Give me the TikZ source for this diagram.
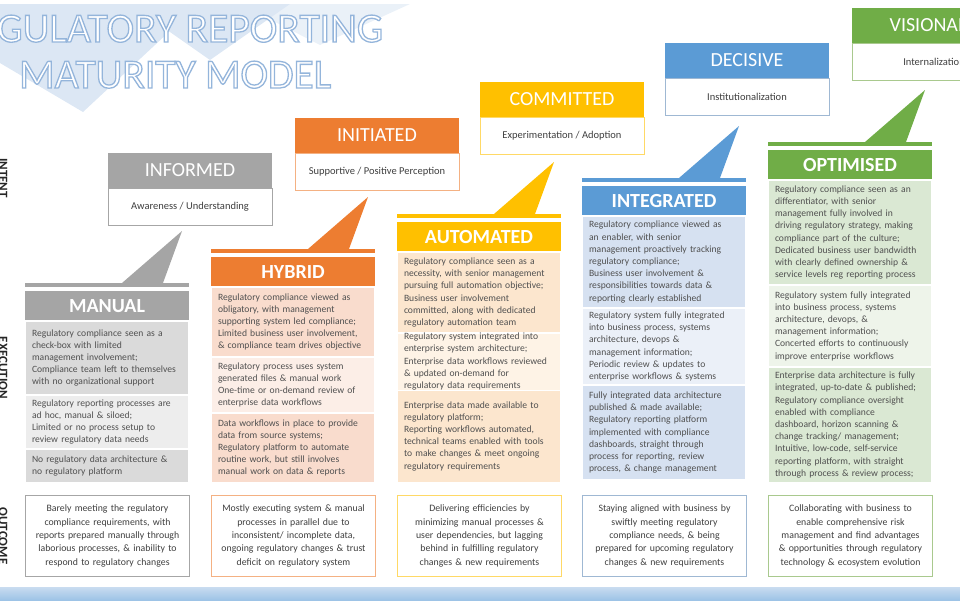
\documentclass[tikz,border=0pt]{standalone}
\usepackage{fontspec}
\setmainfont{Carlito}
\usetikzlibrary{calc, positioning}

\definecolor{grayhd}{HTML}{A5A5A5}
\definecolor{orangehd}{HTML}{ED7D31}
\definecolor{goldhd}{HTML}{FFC000}
\definecolor{bluehd}{HTML}{5B9BD5}
\definecolor{greenhd}{HTML}{70AD47}
\definecolor{grayol}{HTML}{A6A6A6}
\definecolor{orangeol}{HTML}{F4B183}
\definecolor{goldol}{HTML}{FFD966}
\definecolor{blueol}{HTML}{9FB8D3}
\definecolor{greenol}{HTML}{A9C98E}
\definecolor{manA}{HTML}{DADADA}
\definecolor{manB}{HTML}{EDEDED}
\definecolor{hybA}{HTML}{F9DCCD}
\definecolor{hybB}{HTML}{FCEEE7}
\definecolor{autA}{HTML}{FCE6CE}
\definecolor{autB}{HTML}{FEF3E6}
\definecolor{intA}{HTML}{D6E1F1}
\definecolor{intB}{HTML}{EBF0F8}
\definecolor{optA}{HTML}{DAE8D3}
\definecolor{optB}{HTML}{EEF4EA}
\definecolor{bodytxt}{HTML}{505050}
\definecolor{darktxt}{HTML}{3F3F3F}
\definecolor{ttlback}{HTML}{DCE7F4}
\definecolor{bandtop}{HTML}{C9DCF0}
\definecolor{bandbot}{HTML}{9DC3E6}

\newcommand{\secfont}{\fontsize{9.6}{12.2}\selectfont}
\newcommand{\outlined}[1]{\special{pdf:literal direct 2 Tr 1.3 w 0.58 0.71 0.86 RG}#1\special{pdf:literal direct 0 Tr}}

\begin{document}
\begin{tikzpicture}[x=1pt, y=-1pt,
  ttl/.style={anchor=base west, inner sep=0pt, text=white, font=\fontsize{41.5}{44}\selectfont},
  rowlbl/.style={rotate=-90, inner sep=0pt, text=black!85, font=\fontsize{13}{14}\selectfont\bfseries},
  intent/.style={anchor=north west, minimum width=164pt, minimum height=35pt, inner sep=0pt, outer sep=0pt, text=white, font=\fontsize{20}{22}\selectfont},
  intsub/.style={anchor=north, minimum width=164pt, minimum height=37pt, inner sep=0pt, outer sep=0pt, fill=white, line width=1pt, text=darktxt, font=\fontsize{10.5}{12}\selectfont},
  bar/.style={anchor=north west, minimum width=164pt, minimum height=4pt, inner sep=0pt, outer sep=0pt},
  hdr/.style={anchor=north, minimum width=164pt, minimum height=30pt, inner sep=0pt, outer sep=0pt, text=white, font=\fontsize{20}{22}\selectfont\bfseries},
  sec/.style={anchor=north, text width=150pt, inner xsep=7pt, inner ysep=0pt, outer sep=0pt, align=left, draw=white, line width=1.2pt, text=bodytxt, font=\secfont},
  outc/.style={anchor=north west, text width=158pt, minimum height=81pt, inner xsep=3pt, inner ysep=0pt, align=center, fill=white, line width=1pt, text=darktxt, font=\fontsize{9.8}{13.3}\selectfont}
]
\useasboundingbox (0,0) rectangle (960,600);

% title with pale triangles behind it
\fill[ttlback] (-100,4) -- (199,4) -- (83,112) -- cycle;
\fill[ttlback] (130,4) -- (290,4) -- (210,60) -- cycle;
\fill[ttlback, opacity=.6] (240,4) -- (410,4) -- (320,45) -- cycle;
\node[ttl] (ttl1) at (-46,42) {\outlined{REGULATORY REPORTING}};
\node[ttl] (ttl2) at (19,88) {\outlined{MATURITY MODEL}};

% row labels
\node[rowlbl] (lintent) at (3,178) {INTENT};
\node[rowlbl] (lexec) at (3,368) {EXECUTION};
\node[rowlbl] (lout) at (3,536) {OUTCOME};

% intent boxes
\node[intent, fill=grayhd] (infhdr) at (108,153) {INFORMED};
\node[intsub, draw=grayol, below=0pt of infhdr] (infsub) {Awareness / Understanding};
\node[intent, fill=orangehd] (inihdr) at (295,118) {INITIATED};
\node[intsub, draw=orangeol, below=0pt of inihdr] (inisub) {Supportive / Positive Perception};
\node[intent, fill=goldhd] (comhdr) at (480,82) {COMMITTED};
\node[intsub, draw=goldol, below=0pt of comhdr] (comsub) {Experimentation / Adoption};
\node[intent, fill=bluehd] (dechdr) at (665,43) {DECISIVE};
\node[intsub, draw=blueol, below=0pt of dechdr] (decsub) {Institutionalization};
\node[intent, fill=greenhd] (vishdr) at (852,8) {VISIONARY};
\node[intsub, draw=greenol, below=0pt of vishdr] (vissub) {Internalization};

% MANUAL
\node[bar, fill=grayhd] (manbar) at (25,283) {};
\node[hdr, fill=grayhd, below=4pt of manbar] (manhdr) {MANUAL};
\node[sec, fill=manA, minimum height=74pt, below=0pt of manhdr] (man1) {Regulatory compliance seen as a\\check-box with limited\\management involvement;\\Compliance team left to themselves\\with no organizational support};
\node[sec, fill=manB, minimum height=54pt, below=0pt of man1] (man2) {Regulatory reporting processes are\\ad hoc, manual \& siloed;\\Limited or no process setup to\\review regulatory data needs};
\node[sec, fill=manA, minimum height=34pt, below=0pt of man2] (man3) {No regulatory data architecture \&\\no regulatory platform};

% HYBRID
\node[bar, fill=orangehd] (hybbar) at (211,249) {};
\node[hdr, fill=orangehd, below=4pt of hybbar] (hybhdr) {HYBRID};
\node[sec, fill=hybA, minimum height=70pt, below=0pt of hybhdr] (hyb1) {Regulatory compliance viewed as\\obligatory, with management\\supporting system led compliance;\\Limited business user involvement,\\\& compliance team drives objective};
\node[sec, fill=hybB, minimum height=56pt, below=0pt of hyb1] (hyb2) {Regulatory process uses system\\generated files \& manual work\\One-time or on-demand review of\\enterprise data workflows};
\node[sec, fill=hybA, minimum height=70pt, below=0pt of hyb2] (hyb3) {Data workflows in place to provide\\data from source systems;\\Regulatory platform to automate\\routine work, but still involves\\manual work on data \& reports};

% AUTOMATED
\node[bar, fill=goldhd] (autbar) at (397,214) {};
\node[hdr, fill=goldhd, below=4pt of autbar] (authdr) {AUTOMATED};
\node[sec, fill=autA, minimum height=81pt, below=0pt of authdr] (aut1) {Regulatory compliance seen as a\\necessity, with senior management\\pursuing full automation objective;\\Business user involvement\\committed, along with dedicated\\regulatory automation team};
\node[sec, fill=autB, minimum height=57pt, below=0pt of aut1] (aut2) {Regulatory system integrated into\\enterprise system architecture;\\Enterprise data workflows reviewed\\\& updated on-demand for\\regulatory data requirements};
\node[sec, fill=autA, minimum height=92pt, below=0pt of aut2] (aut3) {Enterprise data made available to\\regulatory platform;\\Reporting workflows automated,\\technical teams enabled with tools\\to make changes \& meet ongoing\\regulatory requirements};

% INTEGRATED
\node[bar, fill=bluehd] (intbar) at (582,178) {};
\node[hdr, fill=bluehd, below=4pt of intbar] (inthdr) {INTEGRATED};
\node[sec, fill=intA, minimum height=92pt, below=0pt of inthdr] (int1) {Regulatory compliance viewed as\\an enabler, with senior\\management proactively tracking\\regulatory compliance;\\Business user involvement \&\\responsibilities towards data \&\\reporting clearly established};
\node[sec, fill=intB, minimum height=77pt, below=0pt of int1] (int2) {Regulatory system fully integrated\\into business process, systems\\architecture, devops \&\\management information;\\Periodic review \& updates to\\enterprise workflows \& systems};
\node[sec, fill=intA, minimum height=95pt, below=0pt of int2] (int3) {Fully integrated data architecture\\published \& made available;\\Regulatory reporting platform\\implemented with compliance\\dashboards, straight through\\process for reporting, review\\process, \& change management};

% OPTIMISED
\node[bar, fill=greenhd] (optbar) at (768,142) {};
\node[hdr, fill=greenhd, below=4pt of optbar] (opthdr) {OPTIMISED};
\node[sec, fill=optA, minimum height=105pt, below=0pt of opthdr] (opt1) {Regulatory compliance seen as an\\differentiator, with senior\\management fully involved in\\driving regulatory strategy, making\\compliance part of the culture;\\Dedicated business user bandwidth\\with clearly defined ownership \&\\service levels reg reporting process};
\node[sec, fill=optB, minimum height=82pt, below=0pt of opt1] (opt2) {Regulatory system fully integrated\\into business process, systems\\architecture, devops, \&\\management information;\\Concerted efforts to continuously\\improve enterprise workflows};
\node[sec, fill=optA, minimum height=116pt, below=0pt of opt2] (opt3) {Enterprise data architecture is fully\\integrated, up-to-date \& published;\\Regulatory compliance oversight\\enabled with compliance\\dashboard, horizon scanning \&\\change tracking/ management;\\Intuitive, low-code, self-service\\reporting platform, with straight\\through process \& review process;};

% pointers from intent boxes down to the stage bars
\foreach \n/\c in {man/grayhd, hyb/orangehd, aut/goldhd, int/bluehd, opt/greenhd}{
  \fill[\c] ($(\n bar.north west)+(157,-52)$) -- ($(\n bar.north west)+(97,0)$)
    -- ($(\n bar.north west)+(138,0)$) -- cycle;
}

% outcomes
\node[outc, draw=grayol] (manout) at (25,495) {Barely meeting the regulatory\\compliance requirements, with\\reports prepared manually through\\laborious processes, \& inability to\\respond to regulatory changes};
\node[outc, draw=orangeol] (hybout) at (211,495) {Mostly executing system \& manual\\processes in parallel due to\\inconsistent/ incomplete data,\\ongoing regulatory changes \& trust\\deficit on regulatory system};
\node[outc, draw=goldol] (autout) at (397,495) {Delivering efficiencies by\\minimizing manual processes \&\\user dependencies, but lagging\\behind in fulfilling regulatory\\changes \& new requirements};
\node[outc, draw=blueol] (intout) at (582,495) {Staying aligned with business by\\swiftly meeting regulatory\\compliance needs, \& being\\prepared for upcoming regulatory\\changes \& new requirements};
\node[outc, draw=greenol] (optout) at (768,495) {Collaborating with business to\\enable comprehensive risk\\management and find advantages\\\& opportunities through regulatory\\technology \& ecosystem evolution};

% band along the bottom
\shade[top color=bandtop, bottom color=bandbot] (0,587) rectangle (960,600);
\end{tikzpicture}
\end{document}
